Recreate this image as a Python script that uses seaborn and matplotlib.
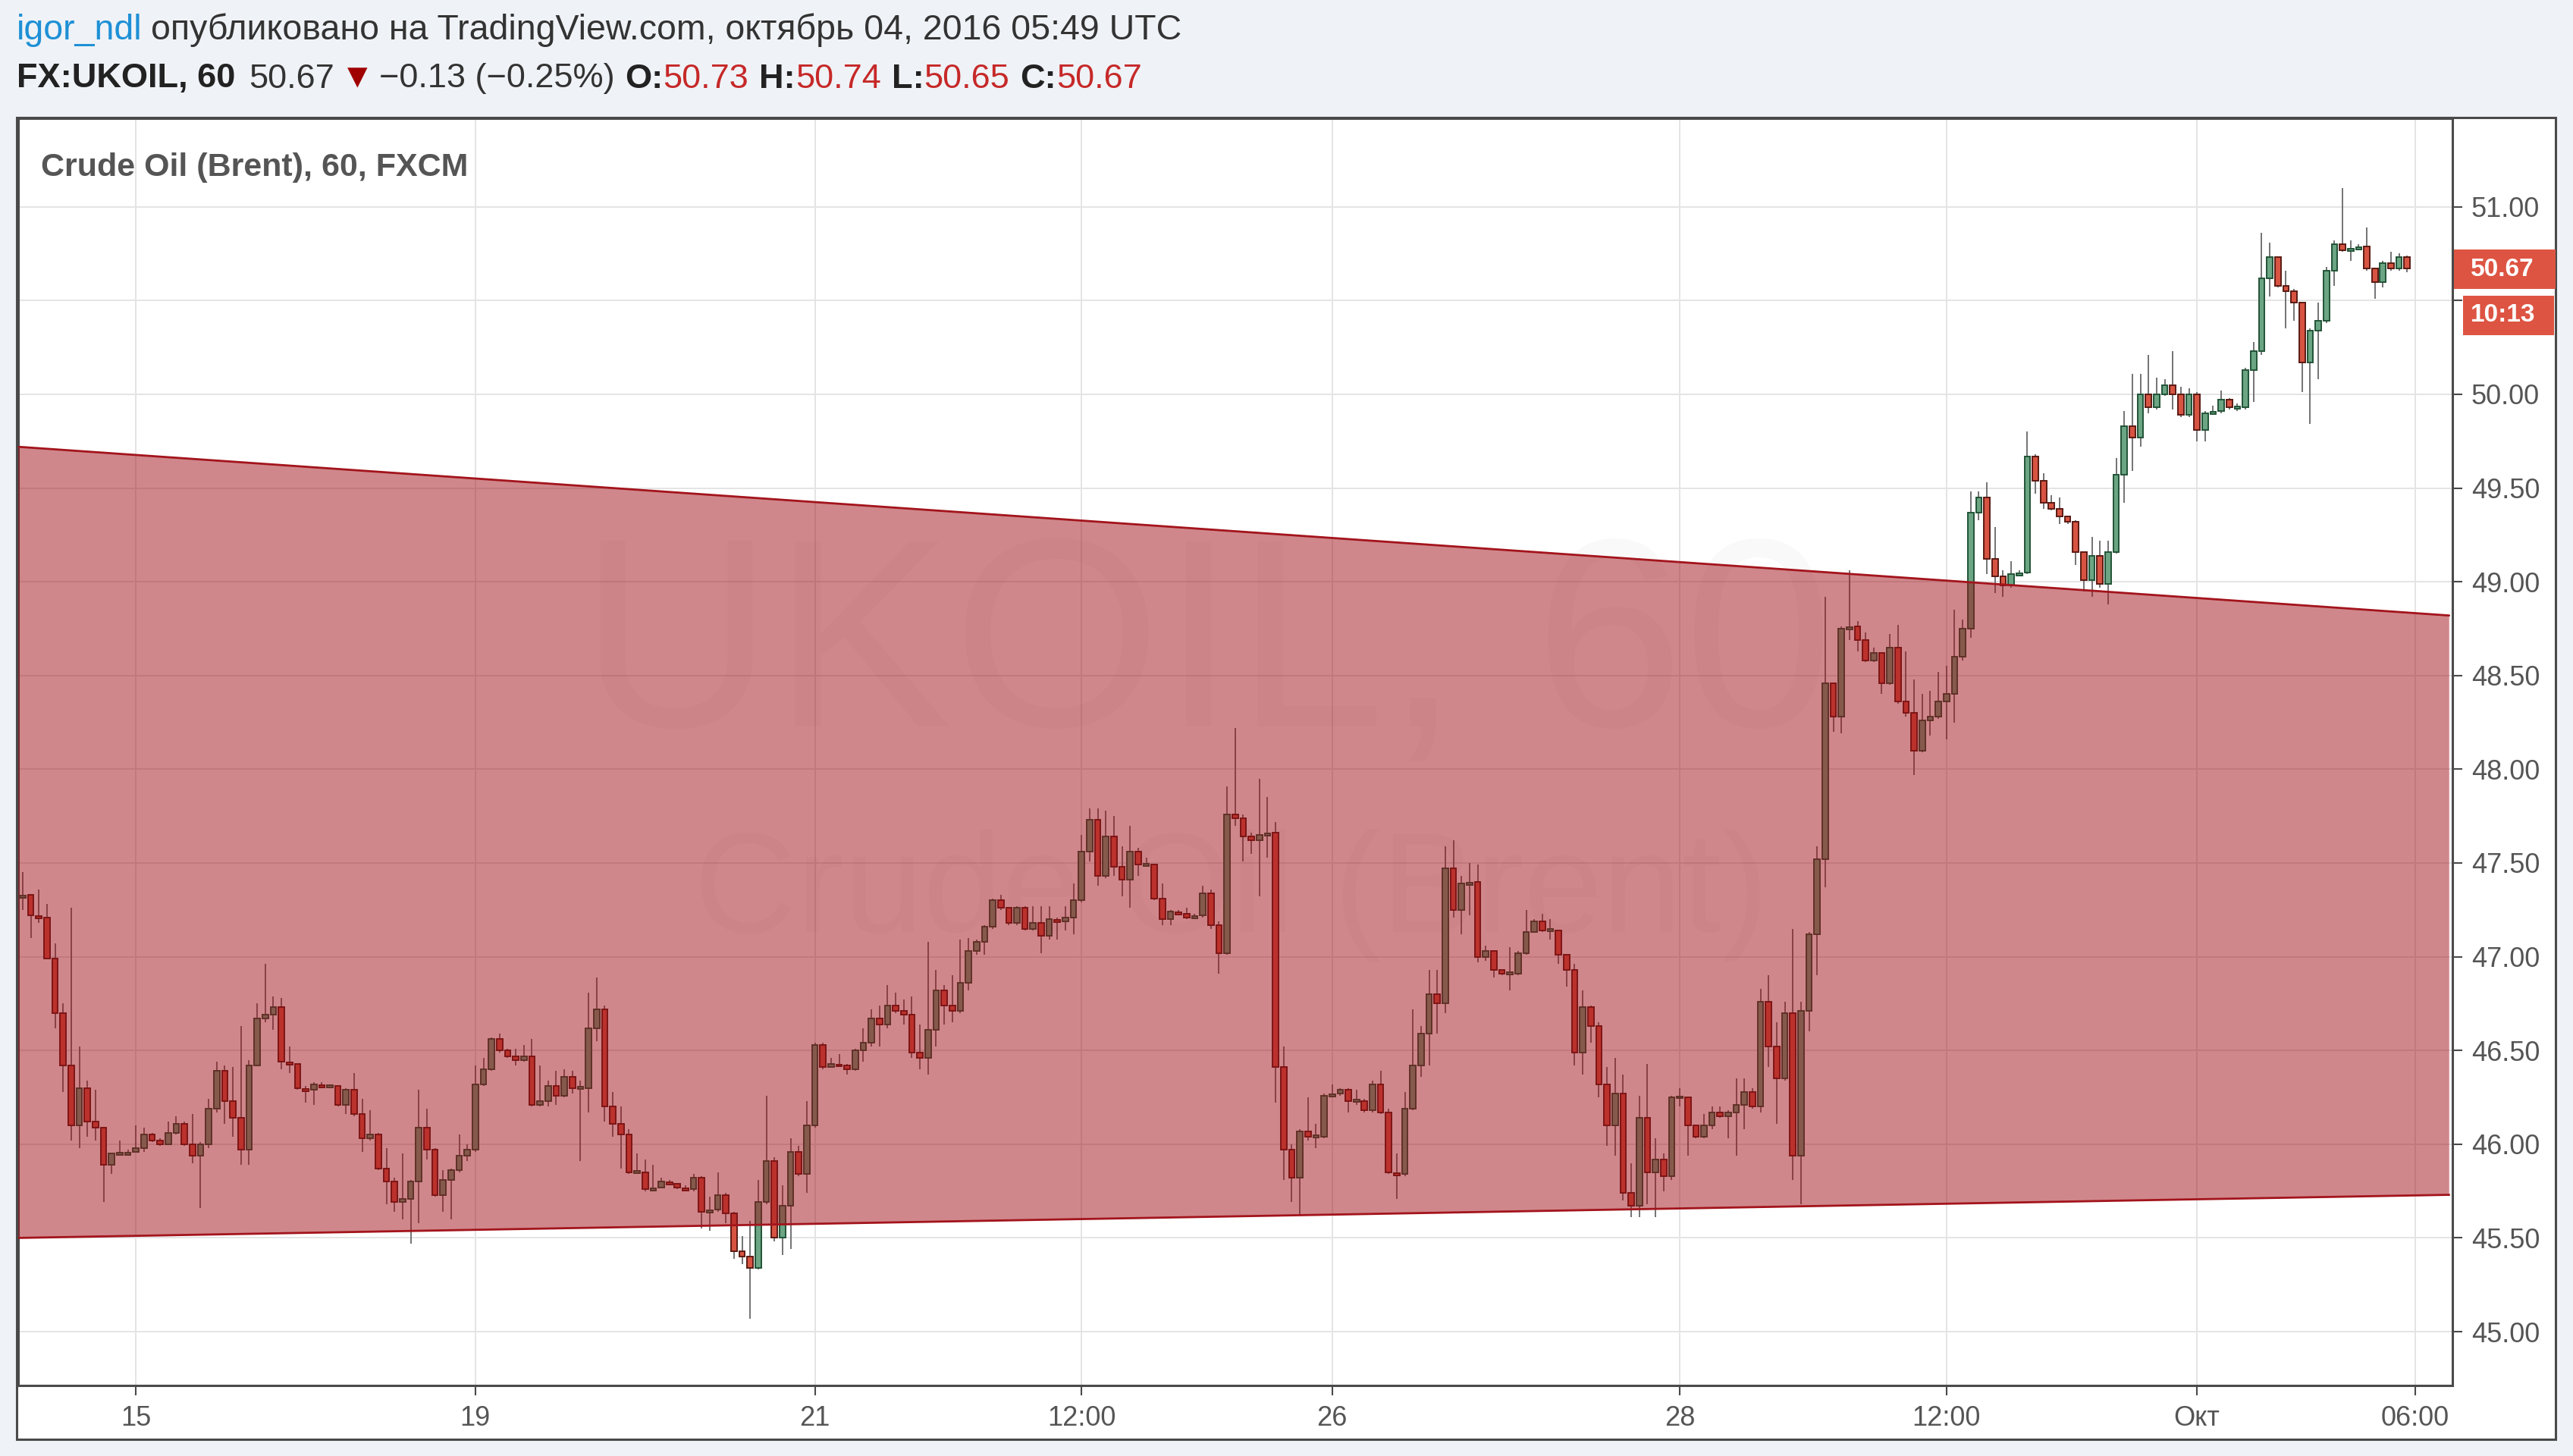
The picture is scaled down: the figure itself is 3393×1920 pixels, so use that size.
import matplotlib
matplotlib.use("Agg")
import numpy as np
import matplotlib.pyplot as plt
from matplotlib.patches import Rectangle, Polygon
import seaborn as sns


# ── Data (hourly bars, weekend gaps removed) ──────────────────────────────────

first_open = 47.32

closes = [
    47.33, 47.22, 47.21, 46.99, 46.70, 46.42, 46.10, 46.30, 46.12, 46.09,
    45.89, 45.95, 45.95, 45.96, 45.98, 46.05, 46.02, 46.00, 46.06, 46.11,
    46.00, 45.94, 46.00, 46.19, 46.39, 46.23, 46.14, 45.97, 46.42, 46.67,
    46.69, 46.73, 46.44, 46.43, 46.30, 46.29, 46.32, 46.31, 46.31, 46.21,
    46.29, 46.16, 46.03, 46.05, 45.87, 45.80, 45.69, 45.71, 45.80, 46.09,
    45.97, 45.73, 45.81, 45.86, 45.94, 45.97, 46.32, 46.40, 46.56, 46.50,
    46.47, 46.45, 46.47, 46.21, 46.23, 46.31, 46.26, 46.36, 46.30, 46.30,
    46.62, 46.72, 46.20, 46.11, 46.05, 45.85, 45.85, 45.76, 45.77, 45.80,
    45.79, 45.77, 45.76, 45.82, 45.64, 45.65, 45.73, 45.63, 45.43, 45.40,
    45.34, 45.69, 45.91, 45.50, 45.67, 45.96, 45.84, 46.10, 46.53, 46.41,
    46.43, 46.42, 46.40, 46.50, 46.54, 46.67, 46.64, 46.74, 46.71, 46.69,
    46.49, 46.46, 46.61, 46.82, 46.74, 46.71, 46.86, 47.03, 47.08, 47.16,
    47.30, 47.26, 47.18, 47.26, 47.15, 47.18, 47.11, 47.20, 47.19, 47.21,
    47.30, 47.56, 47.73, 47.43, 47.64, 47.48, 47.41, 47.56, 47.49, 47.49,
    47.31, 47.20, 47.24, 47.23, 47.21, 47.22, 47.34, 47.17, 47.02, 47.76,
    47.74, 47.64, 47.62, 47.65, 47.66, 46.41, 45.97, 45.82, 46.07, 46.04,
    46.04, 46.26, 46.27, 46.29, 46.23, 46.23, 46.18, 46.32, 46.17, 45.85,
    45.84, 46.19, 46.42, 46.59, 46.80, 46.75, 47.47, 47.25, 47.39, 47.40,
    47.00, 47.03, 46.93, 46.91, 46.91, 47.02, 47.13, 47.19, 47.14, 47.14,
    47.01, 46.93, 46.49, 46.73, 46.63, 46.32, 46.10, 46.27, 45.74, 45.67,
    46.14, 45.85, 45.92, 45.83, 46.25, 46.25, 46.10, 46.04, 46.10, 46.17,
    46.15, 46.17, 46.21, 46.28, 46.20, 46.76, 46.52, 46.35, 46.70, 45.94,
    46.71, 47.12, 47.52, 48.46, 48.28, 48.75, 48.76, 48.69, 48.58, 48.62,
    48.46, 48.65, 48.36, 48.30, 48.10, 48.26, 48.28, 48.36, 48.40, 48.60,
    48.75, 49.37, 49.45, 49.12, 49.03, 48.98, 49.04, 49.05, 49.67, 49.54,
    49.42, 49.39, 49.35, 49.32, 49.16, 49.01, 49.14, 48.99, 49.16, 49.57,
    49.83, 49.77, 50.00, 49.93, 50.00, 50.05, 50.00, 49.89, 50.00, 49.81,
    49.90, 49.91, 49.97, 49.93, 49.93, 50.13, 50.23, 50.62, 50.73, 50.58,
    50.55, 50.49, 50.17, 50.34, 50.39, 50.66, 50.80, 50.77, 50.78, 50.79,
    50.67, 50.60, 50.70, 50.67, 50.73, 50.67,
]

highs = [
    47.45, 47.33, 47.36, 47.28, 47.07, 46.75, 47.26, 46.52, 46.34, 46.29,
    46.09, 45.95, 46.02, 45.97, 46.10, 46.09, 46.06, 46.03, 46.12, 46.15,
    46.12, 46.16, 46.01, 46.24, 46.44, 46.42, 46.41, 46.63, 46.45, 46.75,
    46.96, 46.79, 46.78, 46.52, 46.43, 46.31, 46.33, 46.33, 46.32, 46.31,
    46.30, 46.38, 46.24, 46.18, 46.06, 45.98, 45.82, 45.95, 45.81, 46.29,
    46.19, 45.98, 45.86, 45.87, 46.05, 46.00, 46.42, 46.46, 46.57, 46.59,
    46.51, 46.51, 46.53, 46.56, 46.42, 46.34, 46.39, 46.40, 46.39, 46.34,
    46.81, 46.89, 46.74, 46.28, 46.20, 46.08, 45.95, 45.92, 45.89, 45.82,
    45.81, 45.79, 45.78, 45.84, 45.83, 45.72, 45.85, 45.74, 45.64, 45.51,
    45.59, 45.81, 46.26, 45.93, 45.78, 46.03, 45.99, 46.23, 46.54, 46.54,
    46.46, 46.48, 46.43, 46.51, 46.62, 46.72, 46.74, 46.85, 46.81, 46.77,
    46.79, 46.64, 47.08, 46.93, 46.85, 46.90, 47.09, 47.10, 47.09, 47.17,
    47.31, 47.33, 47.26, 47.27, 47.27, 47.27, 47.27, 47.27, 47.21, 47.27,
    47.39, 47.65, 47.79, 47.79, 47.78, 47.75, 47.59, 47.70, 47.58, 47.53,
    47.49, 47.39, 47.25, 47.25, 47.26, 47.23, 47.38, 47.36, 47.19, 47.91,
    48.22, 47.76, 47.66, 47.95, 47.85, 47.72, 46.52, 46.00, 46.08, 46.25,
    46.11, 46.27, 46.32, 46.30, 46.30, 46.29, 46.24, 46.34, 46.39, 46.19,
    45.95, 46.28, 46.72, 46.63, 46.93, 46.93, 47.59, 47.62, 47.43, 47.50,
    47.49, 47.06, 47.03, 46.93, 47.05, 47.03, 47.25, 47.20, 47.23, 47.20,
    47.14, 47.01, 46.96, 46.82, 46.74, 46.65, 46.41, 46.46, 46.37, 45.90,
    46.26, 46.43, 46.03, 45.95, 46.26, 46.30, 46.25, 46.10, 46.16, 46.20,
    46.20, 46.18, 46.35, 46.35, 46.30, 46.83, 46.90, 46.65, 46.76, 47.15,
    46.76, 47.13, 47.59, 48.92, 48.46, 48.76, 49.06, 48.79, 48.73, 48.65,
    48.62, 48.72, 48.77, 48.63, 48.48, 48.40, 48.42, 48.52, 48.55, 48.85,
    48.80, 49.48, 49.48, 49.53, 49.29, 49.06, 49.11, 49.06, 49.80, 49.68,
    49.58, 49.46, 49.45, 49.35, 49.33, 49.16, 49.24, 49.22, 49.22, 49.66,
    49.91, 50.11, 50.11, 50.21, 50.09, 50.08, 50.23, 50.04, 50.03, 50.01,
    49.91, 49.94, 50.02, 49.98, 49.95, 50.14, 50.28, 50.86, 50.81, 50.73,
    50.66, 50.56, 50.49, 50.35, 50.49, 50.68, 50.82, 51.10, 50.82, 50.80,
    50.89, 50.67, 50.71, 50.76, 50.75, 50.74,
]

lows = [
    47.25, 47.10, 47.18, 46.99, 46.62, 46.28, 46.02, 45.98, 46.04, 46.02,
    45.69, 45.84, 45.94, 45.95, 45.96, 45.96, 46.01, 45.99, 46.00, 46.05,
    45.99, 45.90, 45.66, 45.98, 46.17, 46.11, 46.04, 45.89, 45.89, 46.42,
    46.65, 46.61, 46.40, 46.38, 46.29, 46.22, 46.21, 46.30, 46.30, 46.20,
    46.16, 46.15, 45.96, 46.02, 45.86, 45.68, 45.64, 45.60, 45.47, 45.58,
    45.92, 45.72, 45.64, 45.60, 45.85, 45.91, 45.96, 46.31, 46.39, 46.49,
    46.46, 46.42, 46.44, 46.20, 46.20, 46.20, 46.21, 46.25, 46.27, 45.91,
    46.17, 46.55, 46.12, 46.04, 45.87, 45.84, 45.84, 45.75, 45.75, 45.77,
    45.78, 45.76, 45.75, 45.75, 45.55, 45.54, 45.64, 45.58, 45.39, 45.36,
    45.07, 45.33, 45.68, 45.48, 45.41, 45.44, 45.83, 45.74, 46.09, 46.40,
    46.41, 46.41, 46.37, 46.39, 46.44, 46.52, 46.52, 46.62, 46.70, 46.64,
    46.46, 46.40, 46.37, 46.52, 46.64, 46.65, 46.70, 46.82, 47.01, 47.01,
    47.15, 47.25, 47.17, 47.17, 47.14, 47.14, 47.02, 47.09, 47.09, 47.14,
    47.12, 47.29, 47.51, 47.38, 47.42, 47.43, 47.32, 47.26, 47.43, 47.48,
    47.30, 47.17, 47.17, 47.22, 47.20, 47.20, 47.21, 47.15, 46.91, 47.01,
    47.70, 47.51, 47.55, 47.32, 47.53, 46.22, 45.81, 45.69, 45.62, 46.02,
    45.98, 46.03, 46.25, 46.26, 46.17, 46.21, 46.17, 46.17, 46.16, 45.84,
    45.71, 45.83, 46.18, 46.36, 46.42, 46.59, 46.70, 47.21, 47.12, 47.22,
    46.97, 46.98, 46.89, 46.90, 46.82, 46.90, 47.01, 47.13, 47.13, 47.09,
    46.96, 46.84, 46.42, 46.37, 46.54, 46.25, 45.99, 45.94, 45.70, 45.61,
    45.61, 45.68, 45.61, 45.75, 45.81, 46.20, 45.94, 46.03, 46.03, 46.08,
    46.14, 46.03, 45.94, 46.08, 46.19, 46.17, 46.41, 46.11, 46.34, 45.81,
    45.68, 46.60, 46.90, 47.37, 48.20, 48.19, 48.69, 48.63, 48.57, 48.57,
    48.40, 48.45, 48.35, 48.28, 47.97, 48.09, 48.18, 48.27, 48.16, 48.25,
    48.58, 48.70, 49.33, 49.04, 48.94, 48.92, 48.97, 49.03, 49.04, 49.47,
    49.39, 49.38, 49.31, 49.31, 49.09, 48.95, 48.92, 48.97, 48.88, 49.15,
    49.42, 49.59, 49.72, 49.90, 49.92, 49.99, 49.92, 49.88, 49.88, 49.75,
    49.75, 49.89, 49.90, 49.92, 49.91, 49.92, 49.96, 50.21, 50.52, 50.57,
    50.35, 50.39, 50.01, 49.84, 50.08, 50.38, 50.58, 50.76, 50.71, 50.77,
    50.66, 50.51, 50.57, 50.66, 50.66, 50.65,
]

# time axis labels (bar index where each label sits)
xtick_bars = [14, 56, 98, 131, 162, 205, 238, 269, 296]
xtick_labels = ["15", "19", "21", "12:00", "26", "28", "12:00", "Окт", "06:00"]

# price axis (50.50 is hidden behind the last-price marker in the original)
ytick_values = [45.0, 45.5, 46.0, 46.5, 47.0, 47.5, 48.0, 48.5, 49.0, 49.5, 50.0, 50.5, 51.0]
hidden_tick = 50.5

# drawn channel (bar index, price)
channel_x = [-0.6, 300.2]
channel_upper = [49.72, 48.82]
channel_lower = [45.50, 45.73]

last_price = "50.67"
countdown = "10:13"


# ── Figure setup ──────────────────────────────────────────────────────────────

W, H = 3393, 1920
DPI = 100

sns.set_theme(style="white")
plt.rcParams['font.family'] = ['Liberation Sans', 'DejaVu Sans']

fig = plt.figure(figsize=(W / DPI, H / DPI), dpi=DPI, facecolor='#eff2f6')


def fx(px):
    return px / W


def fy(py):
    return 1 - py / H


panel = Rectangle((fx(22), fy(1898)), (3370 - 22) / W, (1898 - 155) / H,
                  transform=fig.transFigure, facecolor='white',
                  edgecolor='#4a4a4a', lw=2.2, zorder=-5)
fig.patches.append(panel)

ax = fig.add_axes([fx(24), fy(1827), (3234 - 24) / W, (1827 - 156) / H])
ax.set_zorder(1)
ax.set_facecolor('white')
ax.set_xlim(-0.56, 300.6)
ax.set_ylim(44.713, 51.472)


# ── Candles ───────────────────────────────────────────────────────────────────

UP_FILL, UP_EDGE = '#6ba583', '#225437'
DN_FILL, DN_EDGE = '#d75442', '#5b1a13'
WICK = '#737375'

opens = [first_open] + closes[:-1]
opens[-1] = 50.73
x = np.arange(len(closes))

for i in x:
    o, c = opens[i], closes[i]
    hi = max(highs[i], o, c)
    lo = min(lows[i], o, c)
    ax.vlines(i, lo, hi, color=WICK, lw=1.4, zorder=2)
    up = c >= o
    bottom = min(o, c)
    height = abs(c - o)
    if height < 0.012:
        bottom -= 0.006
        height = 0.012
    ax.bar(i, height, bottom=bottom, width=0.72,
           color=UP_FILL if up else DN_FILL,
           edgecolor=UP_EDGE if up else DN_EDGE,
           linewidth=1.4, zorder=3)


# ── Channel drawing ───────────────────────────────────────────────────────────

band = Polygon([[channel_x[0], channel_upper[0]], [channel_x[1], channel_upper[1]],
                [channel_x[1], channel_lower[1]], [channel_x[0], channel_lower[0]]],
               closed=True, facecolor='#a01018', alpha=0.5, edgecolor='none', zorder=4)
ax.add_patch(band)
sns.lineplot(x=channel_x, y=channel_upper, ax=ax, color='#a3141c', lw=2.0, zorder=5)
sns.lineplot(x=channel_x, y=channel_lower, ax=ax, color='#a3141c', lw=2.0, zorder=5)

# watermark
ax.text(146.4, 48.60, "UKOIL, 60", fontsize=255, color='black', alpha=0.025,
        ha='center', va='center', zorder=1)
ax.text(149.5, 47.33, "Crude Oil (Brent)", fontsize=135, color='black', alpha=0.025,
        ha='center', va='center', zorder=1)


# ── Axes styling ──────────────────────────────────────────────────────────────

ax.set_xticks(xtick_bars)
ax.set_xticklabels(xtick_labels)
ax.yaxis.tick_right()
ax.set_yticks(ytick_values)
ax.set_yticklabels(["" if v == hidden_tick else f"{v:.2f}" for v in ytick_values])
ax.grid(True, color='#e4e4e4', lw=1.4, zorder=0)
ax.set_axisbelow(True)
ax.tick_params(axis='both', colors='#4a4a4a', labelcolor='#555555',
               labelsize=26, length=9, width=1.5)
ax.tick_params(axis='x', pad=10, bottom=True)
ax.tick_params(axis='y', pad=9, right=True, left=False)
for s in ax.spines.values():
    s.set_color('#4a4a4a')
    s.set_linewidth(2.2)
    s.set_visible(True)
ax.set_xlabel('')
ax.set_ylabel('')

ax.text(0.0095, 0.961, "Crude Oil (Brent), 60, FXCM", transform=ax.transAxes,
        fontsize=31, fontweight='bold', color='#555555', ha='left', va='center', zorder=6)

# last price and countdown boxes on the price scale
fig.patches.append(Rectangle((fx(3236), fy(381)), (3370 - 3236) / W, 52 / H,
                             transform=fig.transFigure, facecolor='#dd5442',
                             edgecolor='none', zorder=5))
fig.patches.append(Rectangle((fx(3248), fy(442)), (3368 - 3248) / W, 52 / H,
                             transform=fig.transFigure, facecolor='#dd5442',
                             edgecolor='none', zorder=5))
fig.text(fx(3258), fy(355), last_price, color='white', fontsize=24,
         fontweight='bold', ha='left', va='center', zorder=6)
fig.text(fx(3258), fy(416), countdown, color='white', fontsize=24,
         fontweight='bold', ha='left', va='center', zorder=6)


# ── Header ────────────────────────────────────────────────────────────────────

renderer = fig.canvas.get_renderer()


def draw_runs(x_px, y_px, runs, size):
    for text, color, weight, gap in runs:
        t = fig.text(fx(x_px), fy(y_px), text, color=color, fontsize=size,
                     fontweight=weight, ha='left', va='center')
        x_px += t.get_window_extent(renderer=renderer).width + gap


RED = '#c62828'
draw_runs(22, 40, [
    ("igor_ndl", '#1e90d6', 'normal', 11),
    ("опубликовано на TradingView.com, октябрь 04, 2016 05:49 UTC", '#333333', 'normal', 0),
], 33.5)

draw_runs(22, 104, [
    ("FX:UKOIL, 60", '#222222', 'bold', 18),
    ("50.67", '#333333', 'normal', 8),
    ("▼", '#a00000', 'normal', 6),
    ("−0.13 (−0.25%)", '#333333', 'normal', 14),
    ("O:", '#222222', 'bold', 0),
    ("50.73", RED, 'normal', 14),
    ("H:", '#222222', 'bold', 0),
    ("50.74", RED, 'normal', 14),
    ("L:", '#222222', 'bold', 0),
    ("50.65", RED, 'normal', 14),
    ("C:", '#222222', 'bold', 0),
    ("50.67", RED, 'normal', 0),
], 32.5)

fig.savefig("out.png", dpi=DPI, facecolor=fig.get_facecolor())
